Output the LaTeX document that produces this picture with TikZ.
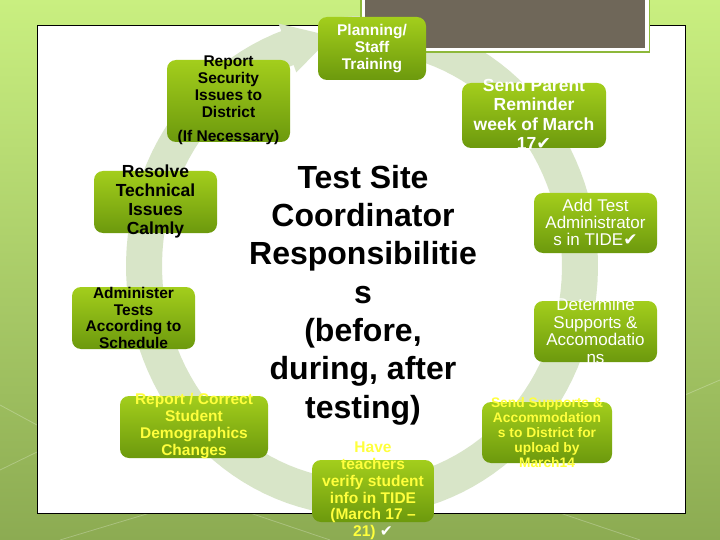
\documentclass[tikz,border=0pt]{standalone}
\usepackage{fontspec}
\setmainfont{Liberation Sans}
\newfontfamily\symfont{DejaVu Sans}
\usepackage{tikz}
\usetikzlibrary{arrows.meta}
\definecolor{slidetop}{HTML}{C9EF80}
\definecolor{slidebot}{HTML}{8CAB52}
\definecolor{band}{HTML}{D8E5C8}
\definecolor{titlegray}{HTML}{6F6759}
\definecolor{edge}{HTML}{8DB83A}
\definecolor{stagetop}{HTML}{A3CE1C}
\definecolor{stagebot}{HTML}{6C990D}
\definecolor{hilite}{HTML}{FFFF3C}
\newcommand{\tick}{{\symfont ✔}}

\begin{document}
\begin{tikzpicture}[
  x=1pt, y=-1pt,
  stage/.style={rectangle, rounded corners=9pt, top color=stagetop, bottom color=stagebot, draw=none, inner sep=0pt},
  note/.style={align=center, inner sep=0pt, font=\bfseries\fontsize{15.5}{17}\selectfont},
  plain/.style={align=center, inner sep=0pt, text=white, font=\fontsize{17}{17.4}\selectfont},
  faint/.style={white, opacity=0.25, line width=0.8pt}
]
\useasboundingbox (0,0) rectangle (720,540);
% slide background and panel
\shade[top color=slidetop, bottom color=slidebot] (0,0) rectangle (720,540);
\draw[faint] (0,405) -- (37,425);
\draw[faint] (0,470) -- (37,452);
\draw[faint] (60,540) -- (150,513);
\draw[faint] (250,513) -- (330,540);
\draw[faint] (560,513) -- (640,540);
\draw[faint] (685,395) -- (720,380);
\filldraw[fill=white, draw=black, line width=1pt] (37,26) rectangle (685,513);

% cycle band
\draw[band, line width=36pt] plot[domain=-95:251, samples=120] ({362+218*cos(\x)},{266+232*sin(\x)});
\fill[band] ({362+244*cos(250)},{266+258*sin(250)}) -- ({362+218*cos(262)},{266+232*sin(262)}) -- ({362+192*cos(250)},{266+206*sin(250)}) -- cycle;

% title placeholder
\fill[edge] (360,-5) rectangle (650,53);
\fill[white] (361.5,-5) rectangle (648.5,51.5);
\fill[titlegray] (365,-5) rectangle (645,48);

% stages
\node[stage, minimum width=123pt, minimum height=82pt] (secbox) at (228.5,101) {};
\node[note] (sectext) at (228.5,100.5) {Report\\Security\\Issues to\\District\\[7pt](If Necessary)};

\node[stage, minimum width=108pt, minimum height=63pt] (planbox) at (372,48.5) {};
\node[note, text=white] (plantext) at (372,49) {Planning/\\Staff\\Training};

\node[stage, minimum width=144pt, minimum height=65pt] (remindbox) at (534,115.5) {};
\node[note, text=white, font=\bfseries\fontsize{17.5}{19.5}\selectfont] (remindtext) at (534,114) {Send Parent\\Reminder\\week of March\\17\tick};

\node[stage, minimum width=123pt, minimum height=60pt] (adminbox) at (595.5,223) {};
\node[plain] (admintext) at (595.5,222.5) {Add Test\\Administrator\\s in TIDE\tick};

\node[stage, minimum width=123pt, minimum height=61pt] (supportbox) at (595.5,331.5) {};
\node[plain] (supporttext) at (595.5,331) {Determine\\Supports \&\\Accomodatio\\ns};

\node[stage, minimum width=130pt, minimum height=61pt] (uploadbox) at (547,432.5) {};
\node[note, text=hilite, font=\bfseries\fontsize{13.8}{15}\selectfont] (uploadtext) at (547,433) {Send Supports \&\\Accommodation\\s to District for\\upload by\\March14};

\node[stage, minimum width=122pt, minimum height=62pt] (verifybox) at (373,491) {};
\node[note, text=hilite, font=\bfseries\fontsize{15.5}{16.8}\selectfont] (verifytext) at (373,491) {Have\\teachers\\verify student\\info in TIDE\\(March 17 –\\21) {\color{white}\tick}};

\node[stage, minimum width=148pt, minimum height=62pt] (demobox) at (194,427) {};
\node[note, text=hilite] (demotext) at (194,426.5) {Report / Correct\\Student\\Demographics\\Changes};

\node[stage, minimum width=123pt, minimum height=62pt] (testbox) at (133.5,318) {};
\node[note, font=\bfseries\fontsize{15.5}{16.7}\selectfont] (testtext) at (133.5,318) {Administer\\Tests\\According to\\Schedule};

\node[stage, minimum width=123pt, minimum height=62pt] (techbox) at (155.5,202) {};
\node[note, font=\bfseries\fontsize{17.5}{19}\selectfont] (techtext) at (155.5,201.5) {Resolve\\Technical\\Issues\\Calmly};

% centre heading
\node[align=center, inner sep=0pt, font=\bfseries\fontsize{32}{38.3}\selectfont] (heading) at (363,295) {Test Site\\Coordinator\\Responsibilitie\\s\\(before,\\during, after\\testing)};
\end{tikzpicture}
\end{document}
